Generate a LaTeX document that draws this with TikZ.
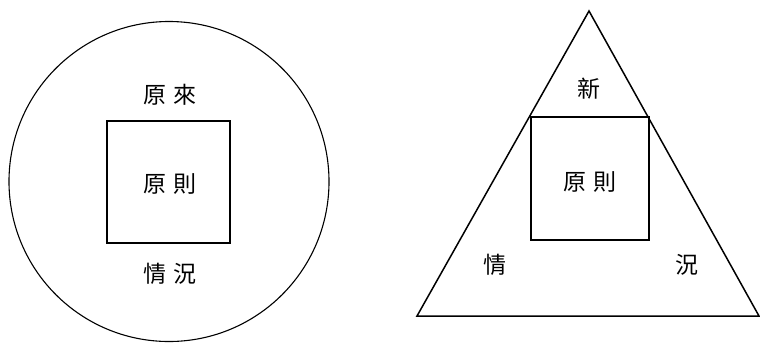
\documentclass[tikz,border=0pt]{standalone}
\usepackage{fontspec}
\newfontfamily\cjk{Noto Sans CJK TC}[Scale=1]
\begin{document}
\begin{tikzpicture}[x=1bp,y=-1bp,
  lbl/.style={font=\cjk\fontsize{23bp}{26bp}\selectfont, inner sep=0pt},
  shapeline/.style={draw=black, line width=1.3bp}]
\useasboundingbox (0,0) rectangle (760,342);
% left: circle
\node[shapeline, line width=1.1bp, circle, minimum size=320bp, inner sep=0pt] (circ) at (169,181.5) {};
\node[shapeline, line width=1.5bp, rectangle, minimum width=123bp, minimum height=122bp, inner sep=0pt] (sq1) at (168.5,182) {};
\node[lbl] (t1) at (170,95) {原\hspace{7bp}來};
\node[lbl] (t2) at (170,184) {原\hspace{7bp}則};
\node[lbl] (t3) at (170,274) {情\hspace{7bp}況};
% right: triangle
\coordinate (apex) at (589,11);
\coordinate (bl) at (417,316);
\coordinate (br) at (759,316);
\draw[shapeline, line width=1.5bp, line join=miter] (apex) -- (bl) -- (br) -- cycle;
\node[shapeline, line width=1.5bp, rectangle, minimum width=118bp, minimum height=123bp, inner sep=0pt] (sq2) at (590,178.5) {};
\node[lbl] (n1) at (589,89) {新};
\node[lbl] (n2) at (590,182) {原\hspace{7bp}則};
\node[lbl] (n3) at (495,265) {情};
\node[lbl] (n4) at (687,265) {況};
\end{tikzpicture}
\end{document}
